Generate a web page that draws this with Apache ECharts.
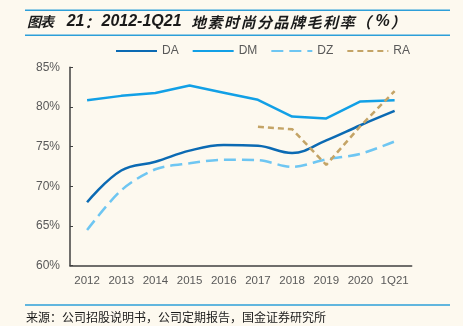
<!DOCTYPE html>
<html><head><meta charset="utf-8">
<script src="https://cdn.jsdelivr.net/npm/echarts@6/dist/echarts.min.js"></script>
<style>html,body{margin:0;padding:0;background:#fdf9ef;}#c{width:463px;height:326px;}</style>
</head><body><div id="c"></div>
<script>
const categories = ['2012','2013','2014','2015','2016','2017','2018','2019','2020','1Q21'];
const DA = [68.0, 72.0, 73.1, 74.5, 75.2, 75.1, 74.2, 75.8, 77.7, 79.5];
const DM = [80.85, 81.4, 81.75, 82.7, 81.8, 80.9, 78.8, 78.55, 80.7, 80.85];
const DZ = [64.5, 69.5, 72.15, 72.9, 73.35, 73.3, 72.45, 73.4, 74.1, 75.65];
const RA = [null, null, null, null, null, 77.5, 77.2, 72.7, 77.6, 82.0];
const yTicks = {min: 60, max: 85, interval: 5};

const chart = echarts.init(document.getElementById('c'));
const font = 'Liberation Sans, Arial, sans-serif';
const cjkA = 'italic bold 14px "Noto Sans CJK SC", sans-serif';
const cjk = 'italic bold 15px "Noto Sans CJK SC", sans-serif';
const lat = 'italic bold 16px "Liberation Sans", Arial, sans-serif';
const per = (s, tag) => s.split('').map(ch => '{' + tag + '|' + ch + '}').join('');
const titleText = per('图表', 'a') + '{s1| }{l|21}{k|：}{l|2012-1Q21}{s2| }' + per('地素时尚分品牌毛利率', 'c') +
  '{c|（}{s3| }{l|%}{s4| }{c|）}';
chart.setOption({
  backgroundColor: '#fdf9ef',
  animation: false,
  graphic: [
    {type:'rect', shape:{x:25,y:9.5,width:425,height:1.5}, style:{fill:'#2d9fd9'}},
    {type:'rect', shape:{x:25,y:34.5,width:425,height:1.5}, style:{fill:'#2d9fd9'}},
    {type:'text', x:27, y:22, style:{
      text: titleText,
      verticalAlign:'middle', fill:'#1a1a1a',
      rich:{
        a:{font:cjkA, fill:'#1a1a1a', width:13},
        c:{font:cjk, fill:'#1a1a1a', width:16.5},
        k:{font:cjk, fill:'#1a1a1a', width:17},
        l:{font:lat, fill:'#1a1a1a'},
        s1:{font:cjk, width:13.7},
        s2:{font:cjk, width:9.5},
        s3:{font:cjk, width:3},
        s4:{font:cjk, width:1}
      }
    }},
    {type:'rect', shape:{x:25,y:304.3,width:425,height:1.5}, style:{fill:'#2d9fd9'}},
    {type:'text', x:26, y:317, style:{text:'来源：公司招股说明书，公司定期报告，国金证券研究所', verticalAlign:'middle', font:'12px "Noto Sans CJK SC", sans-serif', fill:'#1a1a1a'}}
  ],
  legend: {
    top: 40, left: 110,
    itemWidth: 41, itemHeight: 12, itemGap: 13,
    itemStyle: {opacity: 0},
    textStyle: {color:'#595959', fontSize: 12, fontFamily: font},
    data: ['DA','DM','DZ','RA']
  },
  grid: {left: 70, right: 51.3, top: 67.3, bottom: 60.3},
  xAxis: {
    type: 'category', data: categories, boundaryGap: true,
    axisLine: {lineStyle:{color:'#404040', width:1.5}},
    axisTick: {inside: true, length: 4, lineStyle:{color:'#404040'}},
    axisLabel: {color:'#595959', fontSize: 11.5, fontFamily: font, margin: 9, interval: 0}
  },
  yAxis: {
    type: 'value', min: yTicks.min, max: yTicks.max, interval: yTicks.interval,
    axisLine: {show: true, lineStyle:{color:'#404040', width:1.5}},
    axisTick: {show: true, inside: true, length: 3, lineStyle:{color:'#404040'}},
    splitLine: {show: false},
    axisLabel: {color:'#595959', fontSize: 12, fontFamily: font, margin: 10, formatter: '{value}%'}
  },
  series: [
    {name:'DA', type:'line', data: DA, smooth: 0.4, showSymbol:false, symbol:'none', lineStyle:{color:'#0b6ab3', width:2.5}, itemStyle:{color:'#0b6ab3'}},
    {name:'DM', type:'line', data: DM, showSymbol:false, symbol:'none', lineStyle:{color:'#12a0e6', width:2.5}, itemStyle:{color:'#12a0e6'}},
    {name:'DZ', type:'line', data: DZ, smooth: 0.3, showSymbol:false, symbol:'none', lineStyle:{color:'#6ec6f2', width:2.5, type:[12,6]}, itemStyle:{color:'#6ec6f2'}},
    {name:'RA', type:'line', data: RA, showSymbol:false, symbol:'none', lineStyle:{color:'#c4a466', width:2.5, type:[6,4]}, itemStyle:{color:'#c4a466'}}
  ]
});
</script></body></html>
